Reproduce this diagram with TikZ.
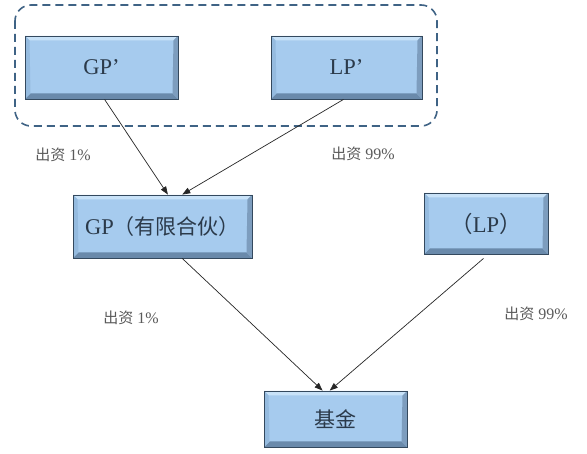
\documentclass[tikz,border=0pt]{standalone}
\usepackage{fontspec}
\setmainfont{Liberation Serif}
\newfontfamily\cjk{Noto Sans CJK SC}
\usetikzlibrary{calc,arrows.meta}
\definecolor{boxface}{HTML}{A6CBEE}
\definecolor{boxline}{HTML}{34495E}
\definecolor{bevtop}{HTML}{C8E2F8}
\definecolor{bevbot}{HTML}{6A8AAB}
\definecolor{bevleft}{HTML}{95BBDF}
\definecolor{bevright}{HTML}{7D9DBE}
\definecolor{boxtext}{HTML}{2B3A4A}
\definecolor{labeltext}{HTML}{5A5A5A}
\definecolor{dashline}{HTML}{3F6385}
\tikzset{
  bevelbox/.style={draw=boxline, line width=0.9pt, fill=boxface, inner sep=0pt,
    text=boxtext, font=\fontsize{22.5}{26}\selectfont,
    path picture={
      \coordinate (bbnw) at (path picture bounding box.north west);
      \coordinate (bbne) at (path picture bounding box.north east);
      \coordinate (bbsw) at (path picture bounding box.south west);
      \coordinate (bbse) at (path picture bounding box.south east);
      \fill[bevtop] (bbnw) -- (bbne) -- ([shift={(-4.5pt,-4.5pt)}]bbne) -- ([shift={(4.5pt,-4.5pt)}]bbnw) -- cycle;
      \fill[bevbot] (bbsw) -- (bbse) -- ([shift={(-5.5pt,5.5pt)}]bbse) -- ([shift={(5.5pt,5.5pt)}]bbsw) -- cycle;
      \fill[bevleft] (bbnw) -- ([shift={(4.5pt,-4.5pt)}]bbnw) -- ([shift={(5.5pt,5.5pt)}]bbsw) -- (bbsw) -- cycle;
      \fill[bevright] (bbne) -- ([shift={(-4.5pt,-4.5pt)}]bbne) -- ([shift={(-5.5pt,5.5pt)}]bbse) -- (bbse) -- cycle;
    }},
  pctlabel/.style={text=labeltext, font=\fontsize{16}{19}\selectfont, inner sep=0pt},
  flow/.style={draw=black!85, line width=0.7pt, -{Triangle[length=8pt,width=6pt]}},
}
\begin{document}
\begin{tikzpicture}[x=1pt,y=-1pt]
\useasboundingbox (0,0) rectangle (587,454);
\fill[white] (0,0) rectangle (587,454);
% dashed group
\draw[dashline, line width=1.6pt, dash pattern=on 8pt off 5pt, rounded corners=16pt] (15,5) rectangle (437,126);
% boxes
\node[bevelbox, minimum width=153pt, minimum height=63pt] (gpp) at (101.5,67.5) {GP’};
\node[bevelbox, minimum width=151pt, minimum height=63pt] (lpp) at (346.5,67.5) {LP’};
\node[bevelbox, minimum width=179pt, minimum height=63pt] (gp) at (162.5,226.5) {GP{\cjk\fontsize{21}{24}\selectfont （有限合伙）}};
\node[bevelbox, minimum width=124pt, minimum height=61pt] (lp) at (486,223.5) {{\cjk （}LP{\cjk ）}};
\node[bevelbox, minimum width=143pt, minimum height=56pt] (fund) at (335.5,419) {{\cjk\fontsize{21}{24}\selectfont 基金}};
% labels
\node[pctlabel] (l1) at (63,155) {{\cjk\fontsize{15}{18}\selectfont 出资} 1\%};
\node[pctlabel] (l2) at (363,154) {{\cjk\fontsize{15}{18}\selectfont 出资} 99\%};
\node[pctlabel] (l3) at (131,318) {{\cjk\fontsize{15}{18}\selectfont 出资} 1\%};
\node[pctlabel] (l4) at (536,314) {{\cjk\fontsize{15}{18}\selectfont 出资} 99\%};
% connectors
\draw[flow] ($(gpp.south west)!0.52!(gpp.south east)$) -- ($(gp.north west)!0.53!(gp.north east)$);
\draw[flow] ($(lpp.south west)!0.48!(lpp.south east)$) -- ($(gp.north west)!0.61!(gp.north east)$);
\draw[flow] ($(gp.south west)!0.61!(gp.south east)$) -- ($(fund.north west)!0.41!(fund.north east)$);
\draw[flow] ($(lp.south west)!0.48!(lp.south east)+(0,4)$) -- ($(fund.north west)!0.46!(fund.north east)$);
\end{tikzpicture}
\end{document}
